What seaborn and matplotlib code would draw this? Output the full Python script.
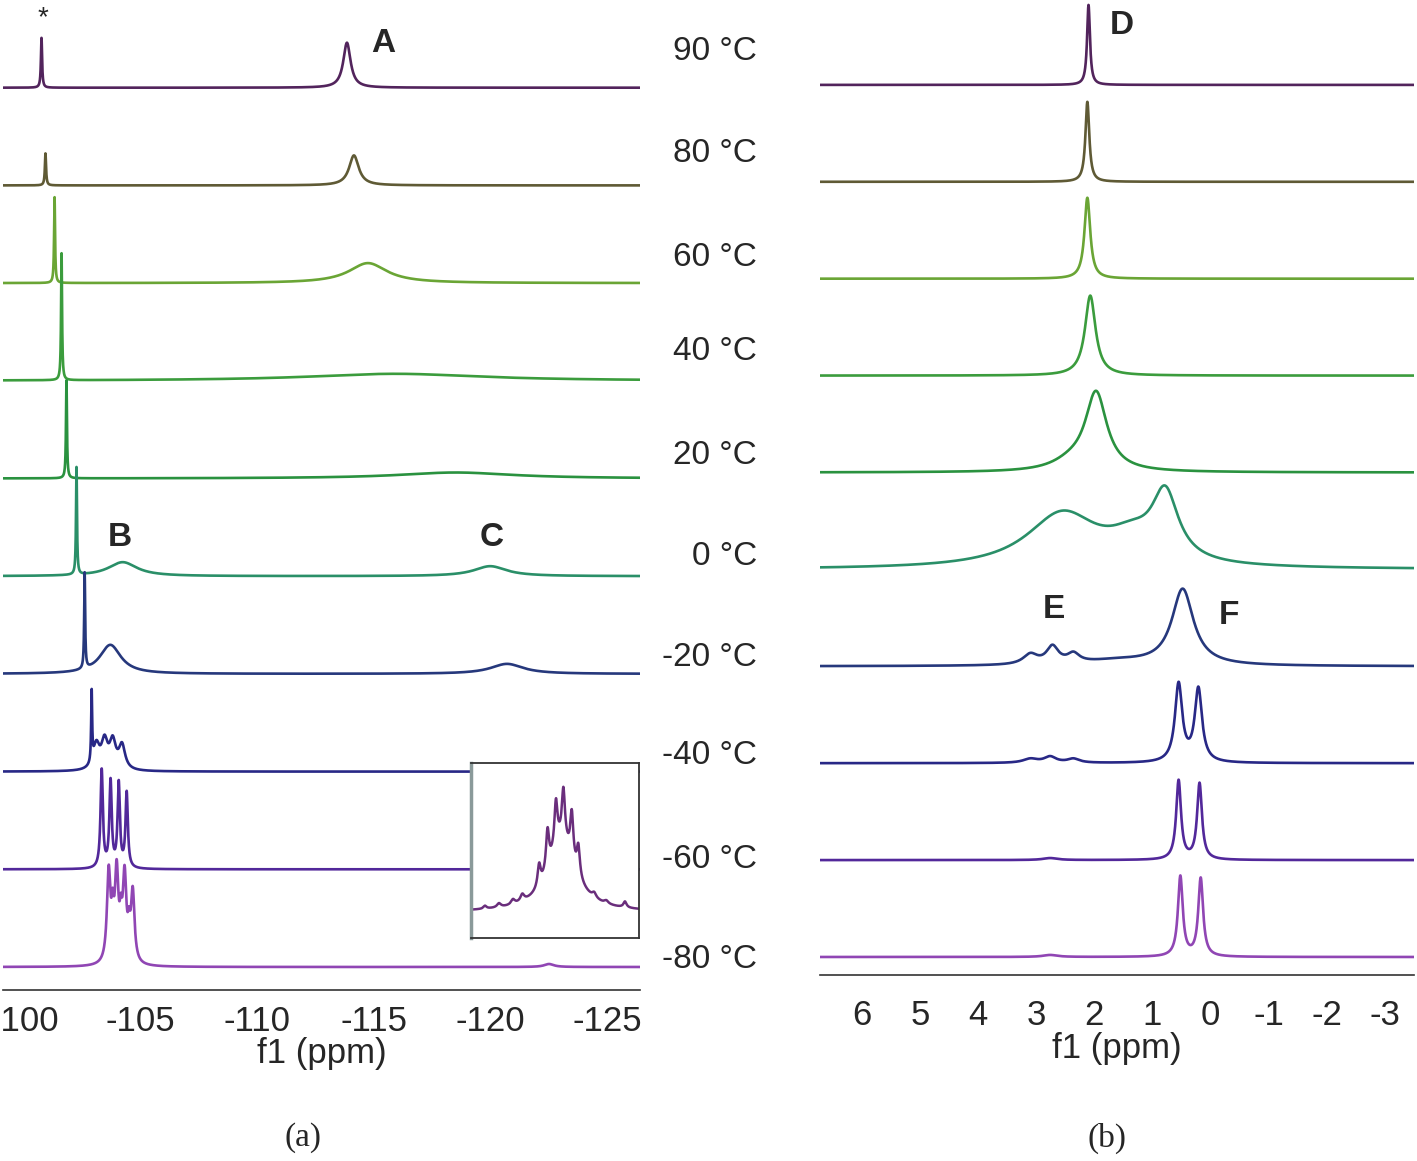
import numpy as np
import pandas as pd
import matplotlib
matplotlib.use("Agg")
import matplotlib.pyplot as plt
import seaborn as sns

sns.set_style("white")
plt.rcParams['font.family'] = ['Liberation Sans', 'DejaVu Sans']

# temperatures, top trace first
temps = ["90 °C", "80 °C", "60 °C", "40 °C", "20 °C", "0 °C", "-20 °C", "-40 °C", "-60 °C", "-80 °C"]
colors = ["#52245c", "#5f5a35", "#6aa535", "#3b9c3d", "#2a923f", "#2a8f68",
          "#26387c", "#282886", "#52289a", "#9046b4"]

# peak lists (ppm, height in px, FWHM in ppm)
# (a) 19F spectra
f_90 = [(-100.75, 50, 0.06), (-113.84, 45, 0.38)]
f_80 = [(-100.92, 32, 0.06), (-114.14, 30, 0.5)]
f_60 = [(-101.31, 86, 0.05), (-114.74, 20, 2.0)]
f_40 = [(-101.61, 127, 0.05), (-115.9, 7, 9.0)]
f_20 = [(-101.82, 98, 0.05), (-118.5, 6, 6.0)]
f_0 = [(-102.25, 108, 0.05), (-104.23, 14, 1.5), (-119.98, 10, 1.7)]
f_m20 = [(-102.6, 96, 0.05), (-103.7, 29, 1.1), (-120.7, 10, 1.7)]
f_m40 = [(-102.9, 70, 0.05), (-103.1, 24, 0.32), (-103.45, 27, 0.32),
         (-103.8, 27, 0.32), (-104.2, 24, 0.32)]
f_m60 = [(-103.33, 98, 0.12), (-103.71, 86, 0.12), (-104.06, 84, 0.12), (-104.4, 75, 0.12)]
f_m80 = [(-103.63, 90, 0.18), (-103.8, 36, 0.12), (-103.97, 88, 0.18), (-104.15, 30, 0.12),
         (-104.31, 84, 0.18), (-104.5, 24, 0.12), (-104.66, 70, 0.18), (-122.5, 3, 0.5)]

# (b) 1H spectra
h_90 = [(2.10, 80, 0.06)]
h_80 = [(2.12, 80, 0.08)]
h_60 = [(2.12, 81, 0.12)]
h_40 = [(2.07, 80, 0.22)]
h_20 = [(1.97, 78, 0.45), (2.4, 8, 0.8)]
h_0 = [(2.55, 54, 1.5), (0.78, 66, 0.55), (1.35, 22, 1.0)]
h_m20 = [(0.48, 76, 0.45), (1.6, 5, 1.5), (3.1, 10, 0.3), (2.72, 17, 0.25), (2.36, 9, 0.25)]
h_m40 = [(0.55, 78, 0.15), (0.21, 73, 0.15), (3.1, 4, 0.3), (2.76, 6, 0.25), (2.36, 4, 0.25)]
h_m60 = [(0.55, 79, 0.1), (0.19, 76, 0.1), (2.76, 2, 0.3)]
h_m80 = [(0.52, 80, 0.1), (0.17, 78, 0.1), (2.76, 2, 0.3)]

# inset: expanded small 19F signal at -80 °C
inset_peaks = [(-122.57, 70, 0.35), (-122.33, 22, 0.04), (-122.42, 40, 0.04),
               (-122.51, 45, 0.04), (-122.59, 50, 0.04), (-122.68, 47, 0.04),
               (-122.75, 30, 0.04), (-121.75, 3, 0.04), (-121.9, 4, 0.05),
               (-122.05, 5, 0.05), (-122.15, 7, 0.05), (-122.92, 5, 0.05),
               (-123.05, 3, 0.05), (-123.25, 6, 0.04)]

fluorine = [f_90, f_80, f_60, f_40, f_20, f_0, f_m20, f_m40, f_m60, f_m80]
proton = [h_90, h_80, h_60, h_40, h_20, h_0, h_m20, h_m40, h_m60, h_m80]


def lorentz_sum(x, peaks):
    y = np.zeros_like(x)
    for pos, h, w in peaks:
        y += h / (1 + (2 * (x - pos) / w) ** 2)
    return y


def stack_frame(x, spectra, base, step):
    frames = []
    for i, (t, pk) in enumerate(zip(temps, spectra)):
        offset = base + (len(temps) - 1 - i) * step
        frames.append(pd.DataFrame({"ppm": x, "y": lorentz_sum(x, pk) + offset, "temp": t}))
    return pd.concat(frames, ignore_index=True)


W, H = 1417, 1161
fig = plt.figure(figsize=(W / 100, H / 100), dpi=100)
pal = dict(zip(temps, colors))

# left panel
axL = fig.add_axes([3 / W, (H - 990) / H, 637 / W, 990 / H])
xL = np.linspace(-98.5, -127, 8000)
dfL = stack_frame(xL, fluorine, 23, 97.7)
sns.lineplot(data=dfL, x="ppm", y="y", hue="temp", palette=pal, estimator=None,
             sort=False, linewidth=1.9, legend=False, ax=axL)
axL.set_xlim(-99.1, -126.4)
axL.set_ylim(0, 990)
axL.set_xticks([-100, -105, -110, -115, -120, -125])
axL.set_xticklabels(["-100", "-105", "-110", "-115", "-120", "-125"])

# right panel
axR = fig.add_axes([820 / W, (H - 975) / H, 594 / W, 975 / H])
xR = np.linspace(7, -4, 6000)
dfR = stack_frame(xR, proton, 18, 96.9)
sns.lineplot(data=dfR, x="ppm", y="y", hue="temp", palette=pal, estimator=None,
             sort=False, linewidth=1.9, legend=False, ax=axR)
axR.set_xlim(6.72, -3.5)
axR.set_ylim(0, 975)
axR.set_xticks([6, 5, 4, 3, 2, 1, 0, -1, -2, -3])
axR.set_xticklabels(["6", "5", "4", "3", "2", "1", "0", "-1", "-2", "-3"])

for ax, pad, ly in [(axL, 7, -0.047), (axR, 14, -0.058)]:
    sns.despine(ax=ax, left=True)
    ax.spines["bottom"].set_color("#333333")
    ax.spines["bottom"].set_linewidth(1.2)
    ax.set_yticks([])
    ax.tick_params(axis="x", direction="inout", length=7, width=1, color="#444444",
                   labelsize=25, pad=pad)
    ax.set_xlabel("f1 (ppm)", fontsize=25)
    ax.set_ylabel("")
    ax.xaxis.set_label_coords(0.5, ly)
    ax.patch.set_alpha(0)

# peak letters
axL.text(-100.83, 990 - 18, "*", fontsize=20, ha="center", va="center")
for lab, xp, yp in [("A", -115.39, 43), ("B", -104.1, 537), ("C", -120.06, 537)]:
    axL.text(xp, 990 - yp, lab, fontsize=24, fontweight="bold", ha="center", va="center")
for lab, xp, yp in [("D", 1.53, 25), ("E", 2.69, 610), ("F", -0.31, 615)]:
    axR.text(xp, 975 - yp, lab, fontsize=24, fontweight="bold", ha="center", va="center")

# temperature labels
temp_y = [52, 153, 257, 352, 455, 556, 657, 756, 860, 960]
for t, yp in zip(temps, temp_y):
    fig.text(757 / W, 1 - yp / H, t, fontsize=24, ha="right", va="center")

# inset
axI = fig.add_axes([471 / W, (H - 938) / H, 168 / W, 175 / H])
axI.set_facecolor("white")
xI = np.linspace(-121.6, -123.4, 1500)
dfI = pd.DataFrame({"ppm": xI, "y": lorentz_sum(xI, inset_peaks)})
sns.lineplot(data=dfI, x="ppm", y="y", color="#6a2e7c", linewidth=1.8, ax=axI)
axI.set_xlim(-121.6, -123.4)
axI.set_ylim(-26, 149)
axI.set_xticks([])
axI.set_yticks([])
axI.set_xlabel("")
axI.set_ylabel("")
for s in axI.spines.values():
    s.set_color("#333333")
    s.set_linewidth(1.3)
axI.spines["left"].set_color("#8a9a9a")
axI.spines["left"].set_linewidth(2.5)

fig.text(303 / W, 1 - 1138 / H, "(a)", fontsize=24, family="Liberation Serif", ha="center", va="center")
fig.text(1107 / W, 1 - 1138 / H, "(b)", fontsize=24, family="Liberation Serif", ha="center", va="center")

fig.savefig("out.png", dpi=100)
